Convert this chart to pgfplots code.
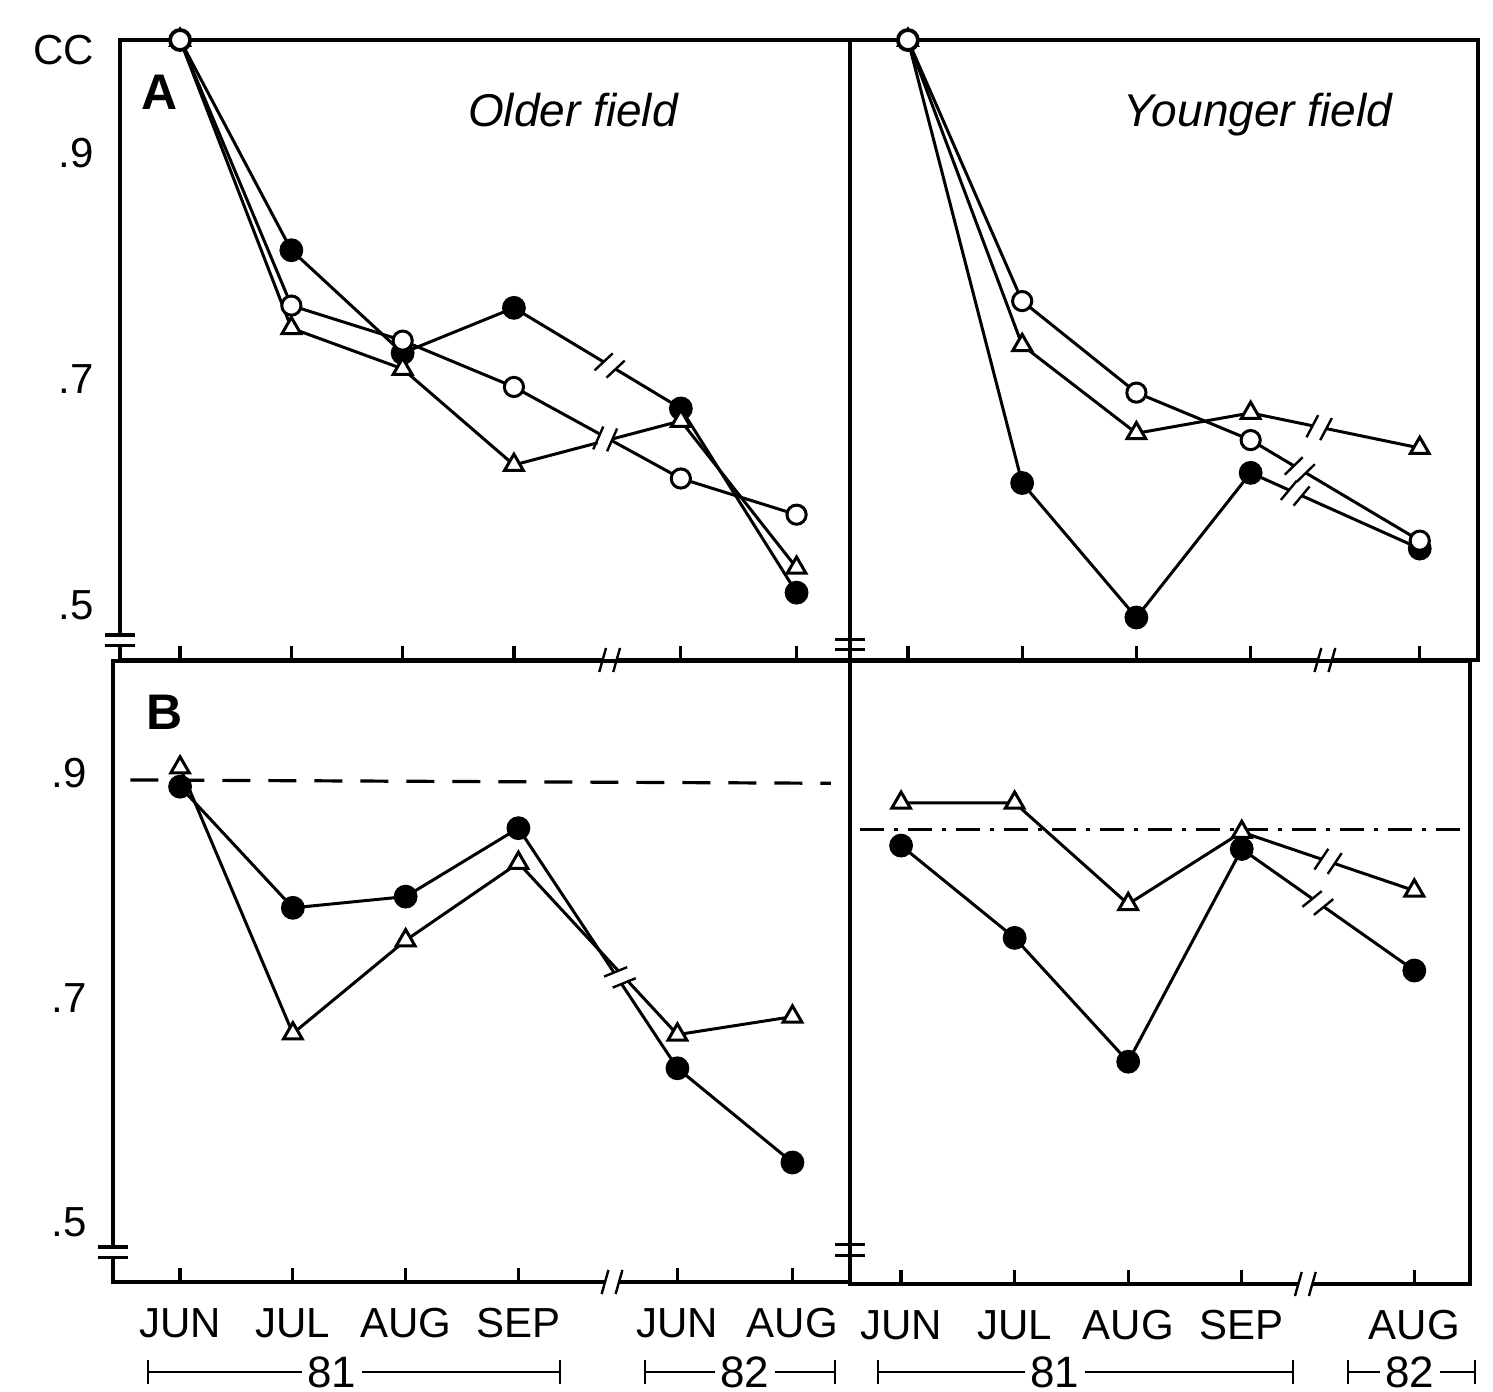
\documentclass[border=0pt]{standalone}
\usepackage{pgfplots}
\pgfplotsset{compat=1.18}
\usepackage{fontspec}
\setmainfont{Liberation Sans}

\tikzset{
  brk/.pic={
    \fill[white] (-1.7pt,-1.6pt) rectangle (1.7pt,1.6pt);
    \draw[line width=0.6pt,black] (-2.6pt,-3pt) -- (-0.9pt,3pt) (0.9pt,-3pt) -- (2.6pt,3pt);
  },
  ybrk/.pic={
    \fill[white] (-4pt,-1.3pt) rectangle (4pt,1.3pt);
    \draw[line width=0.8pt,black] (-3.8pt,-1.3pt) -- (3.8pt,-1.3pt) (-3.8pt,1.3pt) -- (3.8pt,1.3pt);
  }
}

\pgfplotsset{
  panel/.style={
    scale only axis, clip=false, anchor=south west,
    axis line style={line width=0.9pt, black},
    tick align=inside, xtick pos=left, ytick pos=left,
    major tick length=3.5pt,
    xtick style={line width=0.8pt, black},
    ytick style={draw=none},
    ticklabel style={font=\fontsize{10.5}{12}\selectfont},
    yticklabel style={xshift=-3pt},
    xticklabel style={yshift=-3pt},
  },
  filledc/.style={line width=0.75pt, black, mark=*, mark size=2.6pt, mark options={solid, fill=black}},
  openc/.style={line width=0.75pt, black, mark=*, mark size=2.4pt, mark options={solid, fill=white}},
  tri/.style={line width=0.75pt, black, mark=triangle*, mark size=2.7pt, mark options={solid, fill=white}},
}

\begin{document}
\begin{tikzpicture}
\path[use as bounding box] (0pt,-348pt) rectangle (373.25pt,0pt);

% ---------- top left: A, older field ----------
\begin{axis}[panel, at={(30pt,-165pt)}, width=182.5pt, height=155pt,
  xmin=-0.54, xmax=6.02, ymin=0.4514, ymax=1.0,
  xtick={0,1,2,3,4.5,5.54}, xticklabels={},
  ytick={0.5,0.7,0.9,1.0}, yticklabels={.5,.7,.9,\raisebox{-6pt}[0pt][0pt]{CC}}]
\addplot[filledc] coordinates {(0,1.0)(1,0.814)(2,0.723)(3,0.763)(4.5,0.674)(5.54,0.511)};
\addplot[tri] coordinates {(0,1.0)(1,0.745)(2,0.709)(3,0.624)(4.5,0.663)(5.54,0.533)};
\addplot[openc] coordinates {(0,1.0)(1,0.765)(2,0.734)(3,0.693)(4.5,0.612)(5.54,0.580)};
\path (axis cs:3.86,0.712) pic[rotate=-31] {brk};
\path (axis cs:3.82,0.647) pic[rotate=-8] {brk};
\path (axis cs:3.86,0.4514) pic {brk};
\path (axis cs:-0.54,0.469) pic {ybrk};
\path (axis cs:6.02,0.465) pic {ybrk};
\end{axis}

% ---------- top right: younger field ----------
\begin{axis}[panel, at={(212.5pt,-165pt)}, width=157pt, height=155pt,
  xmin=-0.507, xmax=4.99, ymin=0.4514, ymax=1.0,
  xtick={0,1,2,3,4.48}, xticklabels={},
  ytick={0.5,0.7,0.9}, yticklabels={}]
\addplot[filledc] coordinates {(0,1.0)(1,0.608)(2,0.489)(3,0.617)(4.48,0.550)};
\addplot[tri] coordinates {(0,1.0)(1,0.730)(2,0.652)(3,0.670)(4.48,0.639)};
\addplot[openc] coordinates {(0,1.0)(1,0.769)(2,0.688)(3,0.646)(4.48,0.557)};
\path (axis cs:3.60,0.657) pic[rotate=-12] {brk};
\path (axis cs:3.43,0.620) pic[rotate=-30] {brk};
\path (axis cs:3.39,0.599) pic[rotate=-24] {brk};
\path (axis cs:3.65,0.4514) pic {brk};
\end{axis}

% ---------- bottom left: B ----------
\begin{axis}[panel, at={(28.25pt,-320.5pt)}, width=184.25pt, height=155.25pt,
  xmin=-0.595, xmax=5.94, ymin=0.4465, ymax=1.0,
  xtick={0,1,2,3,4.41,5.43}, xticklabels={JUN,JUL,AUG,SEP,JUN,AUG},
  ytick={0.5,0.7,0.9}, yticklabels={.5,.7,.9}]
\addplot[line width=0.8pt, black, dash pattern=on 7pt off 4.5pt] coordinates {(-0.44,0.894)(5.77,0.891)};
\addplot[tri] coordinates {(0,0.905)(1,0.668)(2,0.751)(3,0.820)(4.41,0.667)(5.43,0.683)};
\addplot[filledc] coordinates {(0,0.888)(1,0.780)(2,0.790)(3,0.851)(4.41,0.637)(5.43,0.553)};
\path (axis cs:3.90,0.718) pic[rotate=-52] {brk};
\path (axis cs:3.83,0.4465) pic {brk};
\path (axis cs:-0.595,0.473) pic {ybrk};
\path (axis cs:5.94,0.475) pic {ybrk};
\end{axis}

% ---------- bottom right ----------
\begin{axis}[panel, at={(212.5pt,-321pt)}, width=155pt, height=155.75pt,
  xmin=-0.45, xmax=5.01, ymin=0.4465, ymax=1.0,
  xtick={0,1,2,3,4.52}, xticklabels={JUN,JUL,AUG,SEP,AUG},
  ytick={0.5,0.7,0.9}, yticklabels={}]
\addplot[line width=0.7pt, black, dash pattern=on 6pt off 2.5pt on 1pt off 2.5pt] coordinates {(-0.36,0.850)(5.01,0.850)};
\addplot[tri] coordinates {(0,0.874)(1,0.874)(2,0.784)(3,0.848)(4.52,0.796)};
\addplot[filledc] coordinates {(0,0.836)(1,0.754)(2,0.644)(3,0.833)(4.52,0.725)};
\path (axis cs:3.76,0.822) pic[rotate=-18] {brk};
\path (axis cs:3.67,0.785) pic[rotate=-35] {brk};
\path (axis cs:3.56,0.4465) pic {brk};
\end{axis}

% ---------- panel labels and titles ----------
\node[font=\bfseries\fontsize{12.5}{14}\selectfont] at (40pt,-23pt) {A};
\node[font=\bfseries\fontsize{12.5}{14}\selectfont] at (41.25pt,-178pt) {B};
\node[font=\itshape\fontsize{11.5}{13}\selectfont] at (143.25pt,-27.5pt) {Older field};
\node[font=\itshape\fontsize{11.5}{13}\selectfont] at (314.5pt,-28.75pt) {Younger field};

% ---------- year brackets ----------
\begin{scope}[line width=0.7pt, font=\fontsize{11}{13}\selectfont]
\draw (37pt,-343pt) -- (140pt,-343pt);
\draw (37pt,-340pt) -- (37pt,-346pt) (140pt,-340pt) -- (140pt,-346pt);
\node[fill=white, inner sep=1.5pt] at (83pt,-343pt) {81};
\draw (161.25pt,-343pt) -- (208.75pt,-343pt);
\draw (161.25pt,-340pt) -- (161.25pt,-346pt) (208.75pt,-340pt) -- (208.75pt,-346pt);
\node[fill=white, inner sep=1.5pt] at (186.25pt,-343pt) {82};
\draw (219.5pt,-343pt) -- (323.25pt,-343pt);
\draw (219.5pt,-340pt) -- (219.5pt,-346pt) (323.25pt,-340pt) -- (323.25pt,-346pt);
\node[fill=white, inner sep=1.5pt] at (263.75pt,-343pt) {81};
\draw (337pt,-343pt) -- (368.75pt,-343pt);
\draw (337pt,-340pt) -- (337pt,-346pt) (368.75pt,-340pt) -- (368.75pt,-346pt);
\node[fill=white, inner sep=1.5pt] at (352.5pt,-343pt) {82};
\end{scope}
\end{tikzpicture}
\end{document}
